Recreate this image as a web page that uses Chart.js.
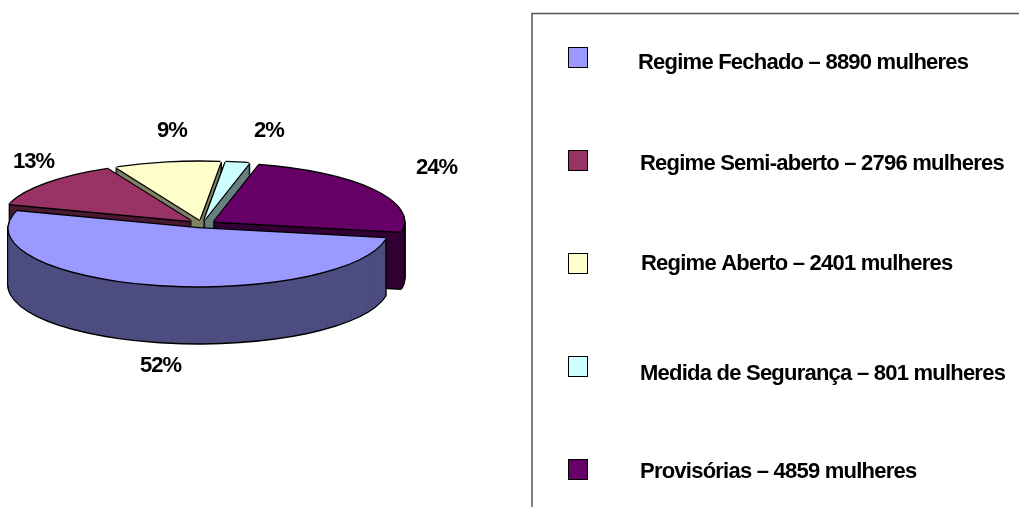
<!DOCTYPE html>
<html>
<head>
<meta charset="utf-8">
<script src="https://cdn.jsdelivr.net/npm/chart.js@4/dist/chart.umd.min.js"></script>
<style>
  html, body { margin: 0; padding: 0; background: #fff; overflow: hidden; }
  canvas { display: block; }
</style>
</head>
<body>
<canvas id="myChart" width="1019" height="507"></canvas>
<script>
const categorias = [
    "Regime Fechado – 8890 mulheres",
    "Regime Semi-aberto – 2796 mulheres",
    "Regime Aberto – 2401 mulheres",
    "Medida de Segurança – 801 mulheres",
    "Provisórias – 4859 mulheres"
];
const porcentagens = [52, 13, 9, 2, 24];
const cores = ["#9999FF", "#993366", "#FFFFCC", "#CCFFFF", "#660066"];
const coresLaterais = ["#4D4D80", "#4D1A33", "#808066", "#668080", "#330033"];

// back to front
const ordemDesenho = [2, 3, 4, 1, 0];

const achatamento = 0.305;
const profundidade = 57;
const explosao = 14.5;
const contorno = 1.4;

function copiaFatia(arc, cor) {
    let copia = Object.create(arc);
    copia.options = Object.assign({}, arc.options, {backgroundColor: cor, borderWidth: 0});
    return copia;
}

const pizza3d = {
    id: "pizza3d",
    beforeDatasetsDraw(chart) {
        let ctx = chart.ctx;
        let arcs = chart.getDatasetMeta(0).data;
        let cx = arcs[0].x;
        let cy = arcs[0].y;

        function desenha(fatia, dx, dy) {
            let meio = (fatia.startAngle + fatia.endAngle) / 2;
            ctx.save();
            ctx.translate(cx + dx, cy + dy);
            ctx.scale(1, achatamento);
            ctx.translate(-cx + Math.cos(meio) * explosao, -cy + Math.sin(meio) * explosao);
            fatia.draw(ctx);
            ctx.restore();
        }

        ordemDesenho.forEach(i => {
            let preto = copiaFatia(arcs[i], "#000000");
            let lateral = copiaFatia(arcs[i], coresLaterais[i]);
            let topo = copiaFatia(arcs[i], cores[i]);

            for (let d = profundidade; d > 0; d--) {
                desenha(preto, -contorno, d);
                desenha(preto, contorno, d);
            }
            desenha(preto, 0, profundidade + contorno);
            for (let d = profundidade; d > 0; d--) {
                desenha(lateral, 0, d);
            }
            desenha(preto, -contorno, 0);
            desenha(preto, contorno, 0);
            desenha(preto, 0, -contorno);
            desenha(preto, 0, contorno);
            desenha(topo, 0, 0);
        });
        return false;
    }
};

const rotulos = {
    id: "rotulos",
    afterDraw(chart) {
        let ctx = chart.ctx;
        ctx.save();
        ctx.fillStyle = "#000";
        ctx.textBaseline = "alphabetic";
        ctx.textAlign = "left";
        ctx.font = "bold 22px 'Liberation Sans'";
        ctx.letterSpacing = "-1px";

        // percent labels
        let posRotulos = [[140, 372], [13, 168], [157, 137], [254, 137], [416, 174]];
        porcentagens.forEach((p, i) => {
            ctx.fillText(p + "%", posRotulos[i][0], posRotulos[i][1]);
        });

        // legend frame, cut off by the window on the right and at the bottom
        ctx.strokeStyle = "#555";
        ctx.lineWidth = 1.5;
        ctx.strokeRect(532, 13.5, 800, 800);

        ctx.lineWidth = 1;
        ctx.letterSpacing = "-0.77px";
        let xTexto = [638, 640, 641, 640, 640];
        let yTexto = [69, 170, 270, 380, 478];
        categorias.forEach((nome, i) => {
            let y = 47 + 103 * i;
            ctx.fillStyle = cores[i];
            ctx.fillRect(568.5, y + 0.5, 19, 20);
            ctx.strokeStyle = "#000";
            ctx.strokeRect(568.5, y + 0.5, 19, 20);
            ctx.fillStyle = "#000";
            ctx.fillText(nome, xTexto[i], yTexto[i]);
        });
        ctx.restore();
    }
};

let ctx = document.getElementById("myChart").getContext("2d");
let myChart = new Chart(ctx, {
    type: "pie",
    data: {
        labels: categorias,
        datasets: [{
            data: porcentagens,
            backgroundColor: cores,
            borderWidth: 0
        }]
    },
    options: {
        responsive: false,
        animation: false,
        rotation: 100,
        radius: 190,
        layout: {
            padding: {right: 615, bottom: 59}
        },
        plugins: {
            legend: {display: false},
            tooltip: {enabled: false}
        }
    },
    plugins: [pizza3d, rotulos]
});
</script>
</body>
</html>
